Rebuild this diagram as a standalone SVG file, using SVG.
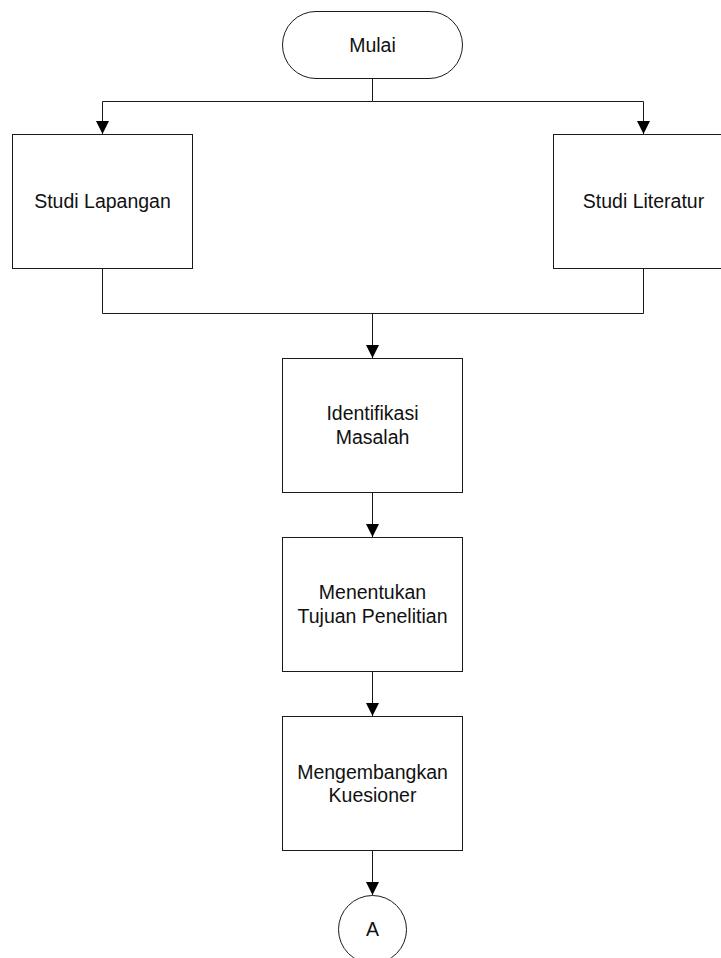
<svg xmlns="http://www.w3.org/2000/svg" width="721" height="958" viewBox="0 0 721 958">
  <style>
    .shape { fill: #ffffff; stroke: #1a1a1a; stroke-width: 1; }
    .line { fill: none; stroke: #1a1a1a; stroke-width: 1; }
    .label { font-family: "Liberation Sans", Arial, sans-serif; font-size: 19.5px; fill: #111111; text-anchor: middle; }
  </style>
  <defs>
    <marker id="arrow" markerUnits="userSpaceOnUse" markerWidth="14" markerHeight="14" refX="13" refY="6.5" orient="auto">
      <path d="M0,0 L13,6.5 L0,13 Z" fill="#000000"/>
    </marker>
  </defs>

  <rect width="721" height="958" fill="#ffffff"/>

  <!-- connectors -->
  <g id="connectors">
    <path class="line" d="M372.5,78 V101.5"/>
    <path class="line" d="M372.5,101.5 H102.5 V134" marker-end="url(#arrow)"/>
    <path class="line" d="M372.5,101.5 H643.5 V134" marker-end="url(#arrow)"/>
    <path class="line" d="M102.5,268 V313.5 H643.5 V268"/>
    <path class="line" d="M372.5,313.5 V358" marker-end="url(#arrow)"/>
    <path class="line" d="M372.5,492 V537" marker-end="url(#arrow)"/>
    <path class="line" d="M372.5,671 V716" marker-end="url(#arrow)"/>
    <path class="line" d="M372.5,850 V895" marker-end="url(#arrow)"/>
  </g>

  <g id="mulai">
    <rect class="shape" x="282.5" y="11.5" width="180" height="67" rx="33.5" ry="33.5"/>
    <text class="label" x="372.5" y="51.5">Mulai</text>
  </g>

  <g id="studi-lapangan">
    <rect class="shape" x="12.5" y="134.5" width="180" height="134"/>
    <text class="label" x="102.5" y="208">Studi Lapangan</text>
  </g>

  <g id="studi-literatur">
    <rect class="shape" x="553.5" y="134.5" width="180" height="134"/>
    <text class="label" x="643.5" y="208">Studi Literatur</text>
  </g>

  <g id="identifikasi-masalah">
    <rect class="shape" x="282.5" y="358.5" width="180" height="134"/>
    <text class="label" x="372.5" y="419.5">Identifikasi</text>
    <text class="label" x="372.5" y="443.5">Masalah</text>
  </g>

  <g id="menentukan-tujuan">
    <rect class="shape" x="282.5" y="537.5" width="180" height="134"/>
    <text class="label" x="372.5" y="599">Menentukan</text>
    <text class="label" x="372.5" y="622.5">Tujuan Penelitian</text>
  </g>

  <g id="mengembangkan-kuesioner">
    <rect class="shape" x="282.5" y="716.5" width="180" height="134"/>
    <text class="label" x="372.5" y="779">Mengembangkan</text>
    <text class="label" x="372.5" y="801.5">Kuesioner</text>
  </g>

  <g id="konektor-a">
    <circle class="shape" cx="372.5" cy="929.5" r="34"/>
    <text class="label" x="372.5" y="936">A</text>
  </g>
</svg>
